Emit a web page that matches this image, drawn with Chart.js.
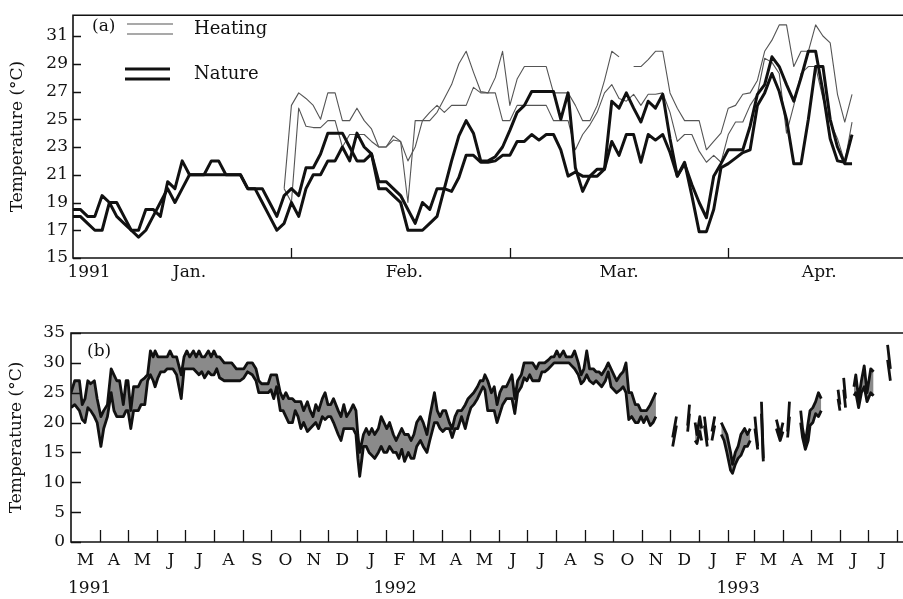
<!DOCTYPE html>
<html>
<head>
<meta charset="utf-8">
<script src="https://cdn.jsdelivr.net/npm/chart.js@4.4.1/dist/chart.umd.min.js"></script>
<style>
body { margin: 0; background: #fff; }
#wrap { position: relative; width: 903px; height: 599px; }
canvas { position: absolute; left: 0; }
#top { top: 0; }
#bottom { top: 290px; }
</style>
</head>
<body>
<div id="wrap">
<canvas id="top" width="903" height="290"></canvas>
<canvas id="bottom" width="903" height="309"></canvas>
</div>
<script>
// ---- panel (a): daily values, day 0 = start of 1991 record
const natureA = [18.5,18.5,18,18,19.5,19,19,18,17,17, 18.5,18.5,18,20.5,20,22,21,21,21,22,
  22,21,21,21,20,20,20,19,18,19.5, 20,19.5,21.5,21.5,22.5,24,24,24,23,22,
  22,22.5,20,20,19.5,19,17,17,17,17.5, 18,20,22,23.8,24.9,24,22,22,22.3,23,
  24.2,25.5,26,27,27,27,27,25,26.9,21.5, 19.8,20.9,21.4,21.4,26.3,25.8,26.9,25.8,24.8,26.3,
  25.8,26.8,23.6,20.9,21.8,20.3,19,17.9,20.9,21.8, 22.8,22.8,22.8,24.5,26.8,27.5,29.5,28.8,27.5,26.3,
  28,29.9,29.9,27,23.6,22,21.9,23.9];
const natureB = [18,18,17.5,17,17,19,18,17.5,17,16.5, 17,18,19,20,19,20,21,21,21,21,
  21,21,21,21,20,20,19,18,17,17.5, 19,18,20,21,21,22,22,23,22,24,
  23,22.5,20.5,20.5,20,19.5,18.5,17.5,19,18.5, 20,20,19.8,20.8,22.4,22.4,21.9,21.9,22,22.4,
  22.4,23.4,23.4,23.9,23.5,23.9,23.9,22.8,20.9,21.2, 20.9,20.9,20.9,21.4,23.4,22.4,23.9,23.9,21.9,23.9,
  23.5,23.9,22.6,20.9,21.9,19.5,16.9,16.9,18.5,21.5, 21.8,22.2,22.6,22.8,26,26.9,28.3,27,25,21.8,
  21.8,25,28.8,28.8,25,23,21.8,21.8];
const heatStart = 29;
const heatHigh = [20,26,26.9,26.5,26,25,26.9,26.9,24.9,24.9,25.8,
  24.9,24.3,23,23,23.8,23.4,19,24.9,24.9,24.9,
  25.5,26.5,27.5,29,29.9,28.4,27,26.9,28,29.9,
  26,27.9,28.8,28.8,28.8,28.8,26.9,26.9,26.9,26,
  24.9,24.9,26,27.8,29.9,29.5,null,28.8,28.8,29.3,
  29.9,29.9,26.9,25.8,24.9,24.9,24.9,22.8,23.4,24,
  25.8,26,26.8,26.9,27.8,29.9,30.7,31.8,31.8,28.8,
  29.9,29.9,31.8,31,30.5,26.8,24.8,26.8];
const heatLow = [20,19,25.8,24.5,24.4,24.4,24.9,24.9,23,23.9,23.9,
  23.9,23.4,23,23,23.5,23.4,22,23,24.9,25.5,
  26,25.5,26,26,26,27.3,26.9,26.9,26.9,24.9,
  24.9,26,26,26,26,26,24.9,24.9,24.9,22.8,
  23.9,24.6,25.5,26.9,27.5,26.5,26.3,26.8,26,26.8,
  26.8,26.9,25.5,23.4,23.9,23.9,22.7,21.9,22.4,21.9,
  23.9,24.8,24.8,26,26.8,29.4,29.1,28.3,24,26,
  28.3,28.8,28.8,26.5,24.8,23.6,21.9,24.8];
const yTicksA = [15,17,19,21,23,25,27,29,31];
const xLabelsA = ['1991','Jan.','Feb.','Mar.','Apr.'];
const xLabelPosA = [2.2,16,45.5,75,102.5];
const xMarksA = [30,60,90];

// ---- panel (b): days since 1 Mar 1991, upper and lower line (null = gap)
const daysB = [0,4,9,12,15,18,21,25,28,32, 35,39,43,46,49,52,56,59,61,64,
  67,72,75,79,82,85,88,90,93,96, 100,103,106,109,113,118,121,124,127,131,
  134,137,140,143,147,150,153,156,159,164, 168,172,177,181,185,189,194,198,201,204,
  208,211,214,217,220,224,227,230,233,237, 240,243,246,249,253,256,259,262,265,269,
  272,275,278,281,286,289,292,295,299,302, 305,307,309,313,316,319,322,325,329,332,
  335,338,341,345,348,351,354,357,361,364, 367,370,374,377,381,384,389,392,395,398,
  401,405,408,411,414,418,422,425,428,431, 435,438,441,443,446,450,453,456,459,462,
  466,469,472,475,478,482,485,488,491,494, 498,501,504,507,511,514,517,520,523,527,
  530,533,536,539,543,546,549,552,555,559, 562,565,568,572,575,578,581,584,588,591,
  594,597,600,604,607,610,613,616,620,623, 626,630,644,648,652,660,662,665,668,670,
  673,675,676,678,681,684,686,689,692,696, 699,702,706,708,711,714,717,721,724,727,
  729,732,735,737,739,741,745,755,759,762, 764,767,769,772,781,783,786,789,791,794,
  797,800,803,806,821,823,825,827,829,832, 838,840,843,846,849,852,856,859,862,874,
  877,880];
const hiB = [25,27,27,23,24,27,26.5,27,24,21, 22,23,29,28,27,27,23,27,27,22,
  26,26,27,27.5,28,32,31,32,31,31, 31,31,32,31,31,28,31,32,31,32,
  31,32,31,31,32,31,32,31,31,30, 30,30,29,29,29,30,30,29,27,26.5,
  26.5,26.5,28,28,28,25,24,25,24,24, 23.5,23.5,23.5,22,23.5,22,21,23,22,24,
  25,23,23,24,22,21,23,21,22,23, 22,18,15,18,19,18,19,18,19,21,
  20,19,20,18,17,18,19,18,18,17, 18,20,21,20,18,21,25,22,21,22,
  22,20,19,21,22,22,23,24,24.5,25, 26,27,27,28,27,25,26,23,25,26,
  26,27,28,24,27,28,30,30,30,30, 29,30,30,30,30.5,31,31,32,31,32,
  31,31,31,32,30,28,29,32,29,29, 28.5,28.5,28,29,30,29,28,27,28,28.5,
  30,25,25,23,23,22,22,22,23,24, 25,null,17.5,21,null,19.5,23,null,20,18,
  21,19,null,21,17,null,18.5,21,null,20, 19,18,15,13,15,16,18,19,18,19,
  null,21,16,null,23.5,14,null,20.5,18,20, null,18.5,23.5,null,22,19,16.5,20,22,22.5,
  23.5,25,24,null,25.5,23,null,27.5,24,null, 26,28,24,27,29.5,25,29,28.5,null,33,
  29,null];
const loB = [22.5,23,22,20.5,20,22.5,22,21,20,16, 19,21,25,22,21,21,21,22,22,19,
  22,22,23,23,27,28,27,26,27.5,28.5, 28.5,29,29,29,28,24,29,29,29,29,
  28.5,28,28.5,27.5,28.5,28,28,29,27.5,27, 27,27,27,27,27.5,28.5,28,27,25,25,
  25,25,25.5,24,26,22,22,21,20,20, 22,21,19,20,18.5,19,19.5,20,19,21,
  20.5,21,21,20,18,17,19,19,19,19, 18,14,11,16,16,15,14.5,14,15,16,
  15,15,16,15,15,14,15.5,13.5,15,14, 14,16,17,16,15,17,20,20,19,18.5,
  19,19,17.5,19,19,21,19,21,22.5,23, 24,25,26,25.5,22,22,22,20,21.5,23,
  24,24,24,21.5,25,26,27.5,27,28,27, 27,27,28.5,28.5,29,29.5,30,30,30,30,
  30,30,29.5,29,28,26.5,27,28,27,26.5, 27,26.5,26,27,28.5,26,25.5,25,25.5,26,
  25,20.5,21,20,20,21,20,21,19.5,20, 21,null,16,19.5,null,18.5,21.5,null,17,16.5,
  18.5,17,null,19.5,16,null,17,19.5,null,18, 17,15,12,11.5,13,14,14.5,16,16,17,
  null,19,15.5,null,21.5,13.5,null,19,17,18.5, null,17.5,21,null,20,17.5,15.5,17,19.5,20,
  21.5,21,22,null,24,22,null,25.5,22.5,null, 24.5,25,22.5,25,26,23.5,25,24.5,null,30.5,
  27,null];
const yTicksB = [0,5,10,15,20,25,30,35];
const monthLettersB = ['M','A','M','J','J','A','S','O','N','D','J','F','M','A','M','J','J','A','S','O','N','D','J','F','M','A','M','J','J'];
const yearLabelsB = ['1991','1992','1993'];
const yearPosB = [20,347,714];

const base = Date.UTC(1991, 2, 1);
const monthStartsB = Array.from({length: monthLettersB.length + 1}, (_, i) => (Date.UTC(1991, 2 + i, 1) - base) / 864e5);
const monthPosB = monthLettersB.map((_, i) => (monthStartsB[i] + monthStartsB[i + 1]) / 2);

const serif = "'DejaVu Serif', serif";
Chart.defaults.font.family = serif;
Chart.defaults.font.size = 17;
Chart.defaults.color = '#111';

const pts = (arr, start, xs) => arr.map((v, i) => ({x: xs ? xs[i] : start + i, y: v}));

// frame, inside ticks, panel tag and legend
const frame = {
  id: 'frame',
  afterDraw(chart, args, o) {
    const {ctx, chartArea: a, scales: {x, y}} = chart;
    ctx.save();
    ctx.strokeStyle = '#111';
    ctx.lineWidth = 1.6;
    ctx.beginPath();
    ctx.moveTo(a.right, a.top); ctx.lineTo(a.left, a.top);
    ctx.lineTo(a.left, a.bottom); ctx.lineTo(a.right, a.bottom);
    ctx.stroke();
    ctx.lineWidth = 1.3;
    ctx.beginPath();
    y.ticks.forEach(t => {
      const p = Math.round(y.getPixelForValue(t.value)) + 0.5;
      ctx.moveTo(a.left, p); ctx.lineTo(a.left + o.yLen, p);
    });
    o.marks.forEach(v => {
      const p = Math.round(x.getPixelForValue(v)) + 0.5;
      ctx.moveTo(p, a.bottom); ctx.lineTo(p, a.bottom - o.xLen);
    });
    ctx.stroke();
    ctx.fillStyle = '#111';
    ctx.textBaseline = 'middle';
    ctx.font = '17px ' + serif;
    ctx.fillText(o.tag, o.tagX, o.tagY);
    (o.legend || []).forEach(e => {
      const ds = chart.data.datasets[e.ds];
      ctx.strokeStyle = ds.borderColor;
      ctx.lineWidth = ds.borderWidth;
      ctx.beginPath();
      e.ys.forEach(yy => { ctx.moveTo(e.x1, yy); ctx.lineTo(e.x2, yy); });
      ctx.stroke();
      ctx.font = '18px ' + serif;
      ctx.fillText(ds.label, e.tx, e.ty);
    });
    ctx.restore();
  }
};

const flat = {display: false, drawTicks: false};

new Chart(document.getElementById('top'), {
  type: 'line',
  data: {
    datasets: [
      {label: 'Nature', data: pts(natureA, 0), borderColor: '#111', borderWidth: 3},
      {label: 'Nature', data: pts(natureB, 0), borderColor: '#111', borderWidth: 3},
      {label: 'Heating', data: pts(heatHigh, heatStart), borderColor: '#555', borderWidth: 1.1},
      {label: 'Heating', data: pts(heatLow, heatStart), borderColor: '#555', borderWidth: 1.1}
    ]
  },
  options: {
    responsive: false,
    animation: false,
    devicePixelRatio: 1,
    layout: {padding: {top: 5, left: 0, right: 0, bottom: 0}},
    elements: {point: {radius: 0}, line: {tension: 0, borderJoinStyle: 'round'}},
    plugins: {
      legend: {display: false},
      tooltip: {enabled: false},
      frame: {
        yLen: 8, xLen: 10, marks: xMarksA, tag: '(a)', tagX: 92, tagY: 27,
        legend: [
          {ds: 2, ys: [24, 34], x1: 127, x2: 173, tx: 194, ty: 29},
          {ds: 0, ys: [69, 79], x1: 125, x2: 170, tx: 194, ty: 74}
        ]
      }
    },
    scales: {
      x: {
        type: 'linear', min: 0, max: 114,
        grid: flat, border: {display: false},
        afterBuildTicks: s => { s.ticks = xLabelPosA.map(v => ({value: v})); },
        ticks: {autoSkip: false, maxRotation: 0, padding: 4, callback: (v, i) => xLabelsA[i]},
        afterFit: s => { s.height = 32; }
      },
      y: {
        min: 15, max: 32.5,
        grid: flat, border: {display: false},
        afterBuildTicks: s => { s.ticks = yTicksA.map(v => ({value: v})); },
        ticks: {padding: 5},
        title: {display: true, text: 'Temperature (°C)', padding: {top: 7, bottom: 0}},
        afterFit: s => { s.width = 73; }
      }
    }
  },
  plugins: [frame]
});

new Chart(document.getElementById('bottom'), {
  type: 'line',
  data: {
    datasets: [
      {label: 'upper', data: pts(hiB, 0, daysB), borderColor: '#111', borderWidth: 2.8, fill: false},
      {label: 'lower', data: pts(loB, 0, daysB), borderColor: '#111', borderWidth: 2.8,
       fill: '-1', backgroundColor: '#8a8a8a'}
    ]
  },
  options: {
    responsive: false,
    animation: false,
    devicePixelRatio: 1,
    layout: {padding: {top: 43, left: 0, right: 0, bottom: 0}},
    elements: {point: {radius: 0}, line: {tension: 0, borderJoinStyle: 'round'}},
    plugins: {
      legend: {display: false},
      tooltip: {enabled: false},
      frame: {yLen: 10, xLen: 12, marks: monthStartsB.slice(1), tag: '(b)', tagX: 87, tagY: 62}
    },
    scales: {
      x: {
        type: 'linear', min: 0, max: 890.5,
        grid: flat, border: {display: false},
        afterBuildTicks: s => { s.ticks = monthPosB.map(v => ({value: v})); },
        ticks: {autoSkip: false, maxRotation: 0, padding: 8, callback: (v, i) => monthLettersB[i]},
        afterFit: s => { s.height = 30; }
      },
      x2: {
        type: 'linear', axis: 'x', position: 'bottom', min: 0, max: 890.5,
        grid: flat, border: {display: false},
        afterBuildTicks: s => { s.ticks = yearPosB.map(v => ({value: v})); },
        ticks: {autoSkip: false, maxRotation: 0, padding: 6, callback: (v, i) => yearLabelsB[i]},
        afterFit: s => { s.height = 27; }
      },
      y: {
        min: 0, max: 35,
        grid: flat, border: {display: false},
        afterBuildTicks: s => { s.ticks = yTicksB.map(v => ({value: v})); },
        ticks: {padding: 6},
        title: {display: true, text: 'Temperature (°C)', padding: {top: 6, bottom: 0}},
        afterFit: s => { s.width = 71; }
      }
    }
  },
  plugins: [frame]
});
</script>
</body>
</html>
